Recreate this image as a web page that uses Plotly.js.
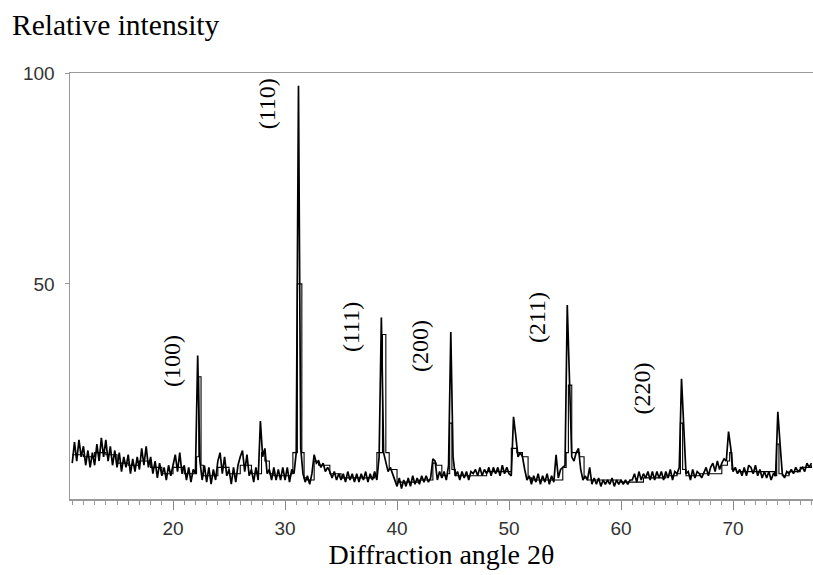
<!DOCTYPE html>
<html>
<head>
<meta charset="utf-8">
<script src="https://cdn.plot.ly/plotly-3.0.1.min.js"></script>
<style>html,body{margin:0;padding:0;background:#fff;}#chart{width:813px;height:575px;}</style>
</head>
<body>
<div id="chart"></div>
<script>
// Raw scan: first angle, step (degrees 2θ), and intensities
const scanStart = 11.0;
const scanStep = 0.2;
const rawIntensity = [
  7.5, 12.5, 8, 13, 9,          // 11
  11.5, 7, 10.5, 6.5, 10,       // 12
  7, 12, 8, 13.5, 9,            // 13
  13, 8, 11.5, 7, 10.5,         // 14
  6.5, 10, 5.5, 9, 6.5,         // 15
  9.5, 5, 8.5, 5.5, 9,          // 16
  6, 11, 7, 11.5, 6.5,          // 17
  9, 5, 8, 4, 7.5,              // 18
  4.5, 6.5, 3.5, 7, 4.5,        // 19
  7, 9.5, 5.5, 10, 5,           // 20
  7, 3.5, 6.5, 3, 6,            // 21
  5, 33, 8, 3.5, 7,             // 22
  3, 6.5, 2.5, 6, 3.5,          // 23
  8, 10, 5, 9, 4.5,             // 24
  6, 2.5, 6.5, 3, 7,            // 25
  9, 10.5, 5.5, 9.5, 4.5,       // 26
  6, 3, 6.5, 3.5, 17.5,         // 27
  9, 11, 5, 6, 3.5,             // 28
  6.5, 3.5, 6, 3.5, 6.5,        // 29
  3.5, 6.5, 3, 6, 5,            // 30
  10, 97, 11, 5, 3,             // 31
  4.5, 2.5, 5, 9.5, 7.5,        // 32
  8, 6.5, 7.5, 5.5, 6.5,        // 33
  5.5, 4, 5.5, 3.5, 5,          // 34
  3.5, 5, 3, 5.5, 3.5,          // 35
  5, 3, 5, 3, 5,                // 36
  3.5, 5.5, 3, 5, 3.5,          // 37
  5.5, 3.5, 9, 42, 10,          // 38
  8, 5.5, 6.5, 5, 4,            // 39
  2, 4, 1.5, 3.5, 2,            // 40
  4, 2, 4.5, 2.5, 4,            // 41
  2.5, 4.5, 3, 4.5, 3,          // 42
  4, 8.5, 8, 3.5, 5.5,          // 43
  4, 5.5, 3.5, 7, 38.6,         // 44
  9, 4.5, 5.5, 3.5, 5.5,        // 45
  4, 5.5, 3.5, 5.5, 5,          // 46
  6, 4.5, 6.5, 4.5, 6,          // 47
  5, 6.5, 4.5, 6.5, 5,          // 48
  6.5, 4.5, 7, 5, 6.5,          // 49
  5, 4.5, 18.5, 14, 9,          // 50
  10, 9, 6, 3.5, 4.5,           // 51
  2.5, 4.5, 3, 5, 2.5,          // 52
  4.5, 3, 5, 2.5, 4.5,          // 53
  3, 9.5, 4, 6, 6.5,            // 54
  7, 45, 26, 9, 8,              // 55
  10, 11, 6, 3.5, 4.5,          // 56
  3.5, 6.5, 2.5, 4, 2.5,        // 57
  4, 2, 3.5, 2.5, 3.5,          // 58
  2.5, 4, 2, 3.5, 2.5,          // 59
  3.5, 2.5, 3.5, 2.5, 3.5,      // 60
  3.5, 5, 3, 5.5, 3.5,          // 61
  5, 4, 5.5, 3.5, 5.5,          // 62
  3.5, 5.5, 4, 5.5, 3.5,        // 63
  5.5, 4, 6, 3.5, 5.5,          // 64
  5, 6.5, 27.5, 17.7, 5,        // 65
  5.5, 3.5, 6, 4, 5.5,          // 66
  5, 4, 5.5, 6.5, 4.5,          // 67
  6.5, 7.5, 5.5, 8, 6,          // 68
  7.5, 8.5, 8, 15, 11,          // 69
  5.5, 6.5, 5, 6, 4.5,          // 70
  6.5, 4.5, 7, 6.5, 5,          // 71
  7, 4.5, 6, 4, 5.5,            // 72
  4, 5.5, 3.5, 5, 4.5,          // 73
  19.7, 12, 5, 4, 5.5,          // 74
  5, 6, 5, 6.5, 5.5,            // 75
  6, 6.5, 5.5, 7.5, 6.5,        // 76
  7.5                           // 77
];

// Second (smoothed) pattern overlaid on the scan
const smoothAngle = [11, 12, 13, 14, 15, 16, 17, 18, 19, 20, 21, 21.9, 22.1, 22.3, 22.5, 22.7, 24, 25, 26, 27, 27.6, 27.9, 28.2, 28.6, 29, 30, 30.5, 30.7, 31.1, 31.5, 31.7, 32, 32.6, 33, 34, 35, 36, 37, 38, 38.2, 38.4, 38.7, 39.0, 39.3, 40, 41, 42, 43, 43.2, 43.5, 44, 44.5, 44.7, 44.9, 45.2, 45.6, 46, 48, 50, 50.2, 50.4, 50.7, 51.2, 51.7, 52, 54, 54.8, 55.1, 55.3, 55.6, 56, 56.3, 56.7, 57, 60, 62, 64, 65.0, 65.3, 65.5, 65.8, 67, 69, 69.5, 69.7, 69.9, 70.3, 72, 73.7, 73.9, 74.1, 74.4, 75, 76, 77];
const smoothIntensity = [9.5, 9, 10, 9.5, 7.5, 7, 8, 6.5, 5, 6.5, 5, 5, 9, 28, 7, 4.5, 6.5, 5, 7, 5, 5, 10, 8, 5, 4.5, 4.5, 5, 10, 50, 10, 4, 3.5, 8, 7, 5, 4, 4, 4, 4.5, 10, 10, 38, 10, 6, 3, 3, 3.5, 3.5, 7.5, 7, 4.5, 5, 17, 6, 4.5, 4.5, 4.5, 5.5, 5.5, 11, 11, 10, 9, 4, 3.5, 3.5, 6.5, 10, 26, 10, 10, 9, 4, 3.5, 3, 4, 4.5, 5, 17, 6, 4.5, 5, 7, 8, 10, 6, 5.5, 5.5, 4.5, 12, 5, 4.5, 5.5, 6.5, 7];

// Peak labels (Miller indices)
const peakLabels = ["(100)", "(110)", "(111)", "(200)", "(211)", "(220)"];
const labelAngle = [19.9, 28.4, 35.9, 42.05, 52.5, 61.9];
const labelHeight = [31.7, 92.6, 39.8, 35.3, 41.9, 25.3];

const yTicks = [50, 100];
const xTicks = [20, 30, 40, 50, 60, 70];
const xTitle = "Diffraction angle 2θ";
const yTitle = "Relative intensity";

const rawAngle = rawIntensity.map((_, i) => +(scanStart + i * scanStep).toFixed(2));

const serif = "Liberation Serif, Times New Roman, serif";
const sans = "Liberation Sans, Arial, sans-serif";

const traces = [
  {
    x: rawAngle, y: rawIntensity, type: "scatter", mode: "lines",
    line: {color: "#000", width: 1.7}, hoverinfo: "x+y"
  },
  {
    x: smoothAngle, y: smoothIntensity, type: "scatter", mode: "lines",
    line: {color: "#000", width: 1.1, shape: "hv"}, hoverinfo: "x+y"
  }
];

const annotations = peakLabels.map((t, i) => ({
  x: labelAngle[i], y: labelHeight[i], xref: "x", yref: "y",
  text: t, showarrow: false, textangle: -90,
  xanchor: "center", yanchor: "middle",
  font: {family: serif, size: 24, color: "#000"}
}));
annotations.push({
  xref: "paper", yref: "paper", x: -60 / 743, y: 1 + 48 / 426,
  xanchor: "left", yanchor: "middle", text: yTitle, showarrow: false,
  font: {family: serif, size: 29.5, color: "#000"}
});

const layout = {
  width: 813, height: 575,
  margin: {l: 70, r: 0, t: 73, b: 76, pad: 0},
  paper_bgcolor: "#fff", plot_bgcolor: "#fff",
  showlegend: false,
  xaxis: {
    range: [10.8, 77.14], showgrid: false, zeroline: false,
    showline: true, linecolor: "#999", linewidth: 1.5, mirror: true,
    tickmode: "array", tickvals: xTicks,
    ticks: "outside", ticklen: 9, tickwidth: 1, tickcolor: "#888",
    ticklabelstandoff: 3,
    minor: {dtick: 1, tick0: 0, ticks: "outside", ticklen: 4, tickcolor: "#999", tickwidth: 1},
    tickfont: {family: sans, size: 19, color: "#333"},
    title: {text: xTitle, standoff: 0,
      font: {family: serif, size: 28, color: "#000"}}
  },
  yaxis: {
    range: [-1, 100], showgrid: false, zeroline: false,
    showline: true, linecolor: "#999", linewidth: 1.5, mirror: false,
    tickmode: "array", tickvals: yTicks,
    ticks: "outside", ticklen: 4, tickcolor: "#999",
    ticklabelstandoff: 6,
    tickfont: {family: sans, size: 19, color: "#333"}
  },
  annotations: annotations
};

Plotly.newPlot("chart", traces, layout, {displayModeBar: false, staticPlot: true});
</script>
</body>
</html>
